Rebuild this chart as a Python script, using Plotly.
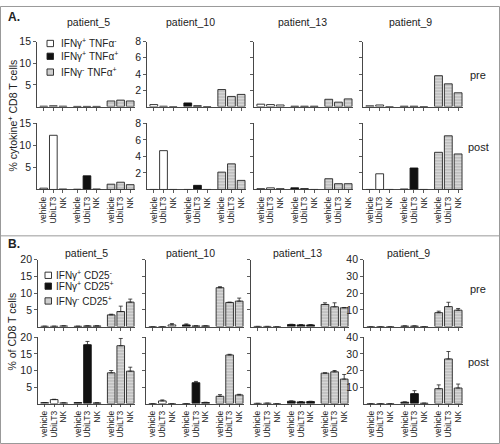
import plotly.graph_objects as go

# ---------------- data ----------------
patients = ["patient_5", "patient_10", "patient_13", "patient_9"]
conditions = ["vehicle", "UbiLT3", "NK"]
tick_labels = conditions * 3

legend_a = ["IFNγ<sup>+</sup> TNFα<sup>-</sup>", "IFNγ<sup>+</sup> TNFα<sup>+</sup>", "IFNγ<sup>-</sup> TNFα<sup>+</sup>"]
legend_b = ["IFNγ<sup>+</sup> CD25<sup>-</sup>", "IFNγ<sup>+</sup> CD25<sup>+</sup>", "IFNγ<sup>-</sup> CD25<sup>+</sup>"]

# Panel A: % cytokine+ CD8 T cells (9 bars: 3 groups x vehicle/UbiLT3/NK)
a_pre_p5 = [0.1, 0.2, 0.1, 0.05, 0.05, 0.05, 1.3, 1.5, 1.3]
a_pre_p10 = [0.25, 0.05, 0.0, 0.45, 0.1, 0.0, 2.1, 1.25, 1.5]
a_pre_p13 = [0.3, 0.25, 0.2, 0.05, 0.05, 0.05, 0.9, 0.55, 0.95]
a_pre_p9 = [0.1, 0.2, 0.0, 0.05, 0.05, 0.0, 3.8, 2.8, 1.7]
a_post_p5 = [0.3, 12.3, 0.1, 0.05, 3.1, 0.1, 1.2, 1.65, 1.1]
a_post_p10 = [0.0, 4.7, 0.0, 0.0, 0.5, 0.0, 2.1, 3.1, 1.1]
a_post_p13 = [0.1, 0.2, 0.1, 0.2, 0.1, 0.0, 1.3, 0.7, 0.7]
a_post_p9 = [0.0, 1.9, 0.0, 0.05, 2.6, 0.0, 4.5, 6.5, 4.3]

# Panel B: % of CD8 T cells, with upper error bars
b_pre_p5 = [0.1, 0.1, 0.2, 0.1, 0.2, 0.2, 3.5, 4.5, 7.3]
b_pre_p10 = [0.0, 0.0, 0.5, 0.5, 0.2, 0.2, 11.6, 7.2, 7.6]
b_pre_p13 = [0.05, 0.05, 0.0, 0.6, 0.5, 0.5, 6.6, 5.9, 5.6]
b_pre_p9 = [0.0, 0.0, 0.0, 0.3, 0.3, 0.0, 8.3, 11.9, 9.8]
b_post_p5 = [0.3, 1.2, 0.2, 0.3, 17.8, 0.2, 9.3, 17.5, 9.8]
b_post_p10 = [0.0, 0.8, 0.0, 0.0, 6.3, 0.3, 2.2, 14.7, 2.6]
b_post_p13 = [0.05, 0.1, 0.0, 0.7, 0.5, 0.6, 9.2, 9.6, 7.4]
b_post_p9 = [0.0, 0.0, 0.0, 0.8, 6.0, 0.2, 9.0, 27.0, 9.4]

b_pre_p5_err = [0, 0, 0, 0, 0, 0, 0.2, 1.6, 0.9]
b_pre_p10_err = [0, 0, 0.4, 0.3, 0, 0, 0.3, 0.1, 0.9]
b_pre_p13_err = [0, 0, 0, 0.1, 0.1, 0.1, 0.5, 1.2, 0.1]
b_pre_p9_err = [0, 0, 0, 0.1, 0.1, 0, 0.9, 2.6, 1.0]
b_post_p5_err = [0, 0.1, 0, 0, 1.0, 0, 0.7, 2.2, 1.2]
b_post_p10_err = [0, 0.3, 0, 0, 0.4, 0.1, 0.5, 0.2, 0.2]
b_post_p13_err = [0, 0, 0, 0.1, 0.1, 0.1, 0.1, 0.4, 1.4]
b_post_p9_err = [0, 0, 0, 0.2, 1.8, 0, 2.3, 4.5, 2.4]

# ---------------- layout helpers ----------------
W, H = 500, 444
FONT = "Liberation Sans, Arial, sans-serif"


def fx(x):
    return x / W


def fy(y):
    return 1 - y / H


positions = [0, 1, 2, 3.5, 4.5, 5.5, 7, 8, 9]
groups = [positions[0:3], positions[3:6], positions[6:9]]

white_style = dict(color="white", line=dict(color="#222", width=0.9))
black_style = dict(color="#111", line=dict(color="#111", width=0.9))
gray_style = dict(color="#d6d6d6", line=dict(color="#222", width=0.9),
                  pattern=dict(shape="-", fgcolor="#8c8c8c", bgcolor="#d6d6d6", size=3, solidity=0.35))
styles = [white_style, black_style, gray_style]

panels = [
    dict(name="A",
         rows=[("pre", [a_pre_p5, a_pre_p10, a_pre_p13, a_pre_p9], None, (36, 102)),
               ("post", [a_post_p5, a_post_p10, a_post_p13, a_post_p9], None, (119, 186))],
         xdom=[(37, 135), (147, 246), (254, 353), (363, 463)],
         ymax=[15, 8, 8, 8],
         ytick=[[5, 10, 15], [2, 4, 6, 8], [2, 4, 6, 8], [2, 4, 6, 8]],
         ylab=[True, True, False, False]),
    dict(name="B",
         rows=[("pre", [b_pre_p5, b_pre_p10, b_pre_p13, b_pre_p9],
                [b_pre_p5_err, b_pre_p10_err, b_pre_p13_err, b_pre_p9_err], (257, 325)),
               ("post", [b_post_p5, b_post_p10, b_post_p13, b_post_p9],
                [b_post_p5_err, b_post_p10_err, b_post_p13_err, b_post_p9_err], (336, 403))],
         xdom=[(38, 135), (146, 244), (251, 349), (364, 463)],
         ymax=[20, 20, 20, 40],
         ytick=[[5, 10, 15, 20], [5, 10, 15, 20], [5, 10, 15, 20], [10, 20, 30, 40]],
         ylab=[True, False, False, True]),
]

fig = go.Figure()
layout_axes = {}
k = 0
for panel in panels:
    for ri, (rowname, rowdata, rowerr, (ytop, ybot)) in enumerate(panel["rows"]):
        for pi in range(4):
            k += 1
            xa = "x" if k == 1 else f"x{k}"
            ya = "y" if k == 1 else f"y{k}"
            vals = rowdata[pi]
            errs = rowerr[pi] if rowerr is not None else None
            for gi in range(3):
                yv = vals[gi * 3:(gi + 1) * 3]
                kw = {}
                if errs is not None:
                    kw["error_y"] = dict(type="data", symmetric=False,
                                         array=errs[gi * 3:(gi + 1) * 3],
                                         arrayminus=[0, 0, 0],
                                         color="#222", thickness=0.8, width=2)
                fig.add_trace(go.Bar(x=groups[gi], y=yv, xaxis=xa, yaxis=ya,
                                     width=0.8, marker=styles[gi], showlegend=False,
                                     hoverinfo="skip", **kw))
            x0, x1 = panel["xdom"][pi]
            is_post = rowname == "post"
            xdict = dict(
                domain=[fx(x0), fx(x1)], anchor=ya, range=[-0.7, 9.5],
                tickvals=positions, showticklabels=is_post, tickangle=-90,
                tickfont=dict(size=8.5, family=FONT, color="#222"),
                ticks="outside", ticklen=3, tickwidth=0.8, tickcolor="#333",
                showline=True, linecolor="#333", linewidth=0.9,
                showgrid=False, zeroline=False, fixedrange=True)
            if is_post:
                xdict["ticktext"] = tick_labels
            layout_axes["xaxis" if k == 1 else f"xaxis{k}"] = xdict
            layout_axes["yaxis" if k == 1 else f"yaxis{k}"] = dict(
                domain=[fy(ybot), fy(ytop)], anchor=xa, range=[0, panel["ymax"][pi]],
                tickvals=panel["ytick"][pi], showticklabels=panel["ylab"][pi],
                tickfont=dict(size=10.5, family=FONT, color="#222"),
                ticks="outside", ticklen=3, tickwidth=0.8, tickcolor="#333",
                showline=True, linecolor="#333", linewidth=0.9,
                showgrid=False, zeroline=False, fixedrange=True)

annotations = []


def add_text(text, x, y, size, bold=False, angle=0, xanchor="center"):
    annotations.append(dict(text=f"<b>{text}</b>" if bold else text,
                            x=fx(x), y=fy(y), xref="paper", yref="paper",
                            showarrow=False, textangle=angle, xanchor=xanchor,
                            yanchor="middle",
                            font=dict(size=size, family=FONT, color="#222")))


# panel labels
add_text("A.", 6, 11, 12, bold=True, xanchor="left")
add_text("B.", 6, 241, 12, bold=True, xanchor="left")

# patient titles
for name, xc in zip(patients, [88, 190, 302, 410]):
    add_text(name, xc, 16, 10.5)
for name, xc in zip(patients, [86, 190, 297, 408]):
    add_text(name, xc, 250, 10.5)

# row labels
add_text("pre", 478, 70, 11)
add_text("post", 478, 143, 11)
add_text("pre", 478, 287, 11)
add_text("post", 478, 361, 11)

# y titles
add_text("% cytokine<sup>+</sup> CD8 T cells", 12, 111, 10.5, angle=-90)
add_text("% of CD8 T cells", 12, 330, 10.5, angle=-90)

shapes = []
# legends
for items, sx, tx, ys in [(legend_a, 47, 59, [38, 51, 67]), (legend_b, 45, 54, [273, 284, 299])]:
    fills = ["white", "#111", "#cfcfcf"]
    for lab, yy, fill in zip(items, ys, fills):
        shapes.append(dict(type="rect", xref="paper", yref="paper",
                           x0=fx(sx), x1=fx(sx + 6.5), y0=fy(yy + 3.2), y1=fy(yy - 3.2),
                           fillcolor=fill, line=dict(color="#222", width=0.9)))
        add_text(lab, tx, yy, 10, xanchor="left")

# frame lines
shapes.append(dict(type="rect", xref="paper", yref="paper",
                   x0=fx(0.5), x1=fx(499.5), y0=fy(443.5), y1=fy(0.5),
                   line=dict(color="#999", width=1)))
shapes.append(dict(type="line", xref="paper", yref="paper",
                   x0=0, x1=1, y0=fy(233), y1=fy(233),
                   line=dict(color="#999", width=1)))

fig.update_layout(
    width=W, height=H, margin=dict(l=0, r=0, t=0, b=0),
    paper_bgcolor="white", plot_bgcolor="white",
    barmode="overlay", showlegend=False, hovermode=False,
    font=dict(family=FONT, color="#222"),
    annotations=annotations, shapes=shapes,
    **layout_axes)

fig.write_html("out.html", config={"displayModeBar": False, "staticPlot": True},
               post_script="document.body.style.margin='0';document.body.style.overflow='hidden';")
